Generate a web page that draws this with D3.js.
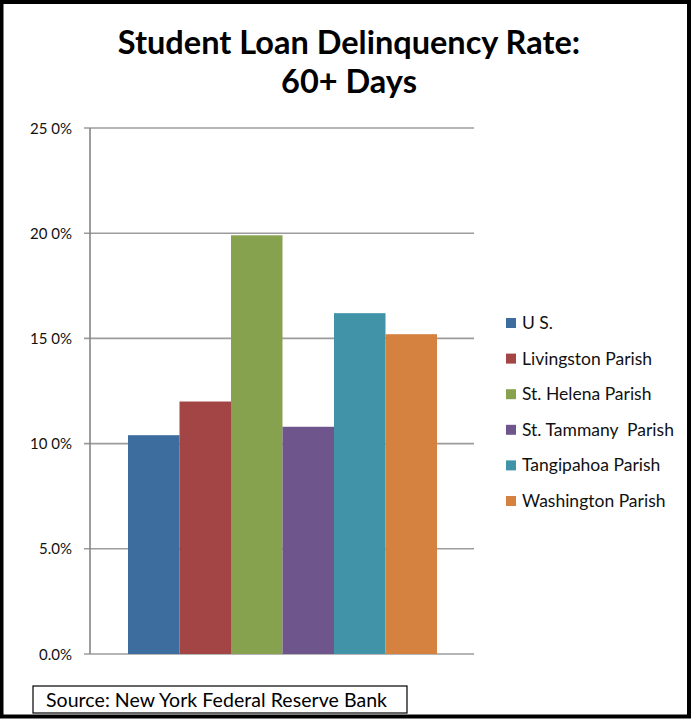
<!DOCTYPE html>
<html>
<head>
<meta charset="utf-8">
<script src="https://cdn.jsdelivr.net/npm/d3@7"></script>
<style>
  body { margin: 0; background: #fff; }
  text { font-family: Lato, "Open Sans", sans-serif; }
</style>
</head>
<body>
<div id="chart"></div>
<script>
const categories = ["U S.", "Livingston Parish", "St. Helena Parish", "St. Tammany  Parish", "Tangipahoa Parish", "Washington Parish"];
const values = [10.4, 12.0, 19.9, 10.8, 16.2, 15.2];
const colors = ["#3d6d9f", "#a34545", "#87a24f", "#6e568c", "#4194a8", "#d58240"];
const tickValues = [0, 5, 10, 15, 20, 25];
const tickLabels = ["0.0%", "5.0%", "10 0%", "15 0%", "20 0%", "25 0%"];

const width = 691;
const height = 719;

const svg = d3.select("#chart").append("svg")
    .attr("width", width)
    .attr("height", height);

// frame
svg.append("rect")
    .attr("x", 1.5).attr("y", 2)
    .attr("width", width - 3.5).attr("height", height - 4.5)
    .attr("fill", "none").attr("stroke", "#000").attr("stroke-width", 4);

// title
svg.append("text")
    .attr("x", 349).attr("y", 54)
    .attr("text-anchor", "middle")
    .style("font-size", "32.5px").style("font-weight", "bold")
    .text("Student Loan Delinquency Rate:");
svg.append("text")
    .attr("x", 349).attr("y", 93)
    .attr("text-anchor", "middle")
    .style("font-size", "32.5px").style("font-weight", "bold")
    .text("60+ Days");

const plotLeft = 90, plotRight = 474, plotTop = 128, plotBottom = 654;

const y = d3.scaleLinear().domain([0, 25]).range([plotBottom, plotTop]);
const x = d3.scaleBand().domain(categories).range([128, 437]).padding(0);

// gridlines
svg.append("g")
    .selectAll("line")
    .data(tickValues)
    .enter().append("line")
    .attr("x1", plotLeft - 6).attr("x2", plotRight)
    .attr("y1", d => y(d)).attr("y2", d => y(d))
    .attr("stroke", "#9c9c9c").attr("stroke-width", 1.6);

// tick labels
svg.append("g")
    .selectAll("text")
    .data(tickValues)
    .enter().append("text")
    .attr("x", 72).attr("y", d => y(d) + 5.5)
    .attr("text-anchor", "end")
    .style("font-size", "15px").attr("fill", "#111")
    .text((d, i) => tickLabels[i]);

// bars
svg.append("g")
    .selectAll("rect")
    .data(values)
    .enter().append("rect")
    .attr("x", (d, i) => x(categories[i]))
    .attr("y", d => y(d))
    .attr("width", x.bandwidth())
    .attr("height", d => y(0) - y(d))
    .attr("fill", (d, i) => colors[i]);

// y axis line
svg.append("line")
    .attr("x1", plotLeft).attr("x2", plotLeft)
    .attr("y1", plotTop).attr("y2", plotBottom)
    .attr("stroke", "#868686").attr("stroke-width", 1.6);

// legend
const legend = svg.append("g")
    .selectAll("g")
    .data(categories)
    .enter().append("g")
    .attr("transform", (d, i) => `translate(506, ${323 + i * 35.6})`);
legend.append("rect")
    .attr("x", 0).attr("y", -5)
    .attr("width", 10).attr("height", 10)
    .attr("fill", (d, i) => colors[i]);
legend.append("text")
    .attr("x", 16).attr("y", 6)
    .style("font-size", "17.5px").attr("fill", "#111")
    .style("white-space", "pre")
    .text(d => d);

// source box
svg.append("rect")
    .attr("x", 33).attr("y", 686)
    .attr("width", 374).attr("height", 27)
    .attr("fill", "#fff").attr("stroke", "#000").attr("stroke-width", 1.2);
svg.append("text")
    .attr("x", 46).attr("y", 707)
    .attr("textLength", 341).attr("lengthAdjust", "spacing")
    .style("font-size", "19.5px")
    .text("Source: New York Federal Reserve Bank");
</script>
</body>
</html>
